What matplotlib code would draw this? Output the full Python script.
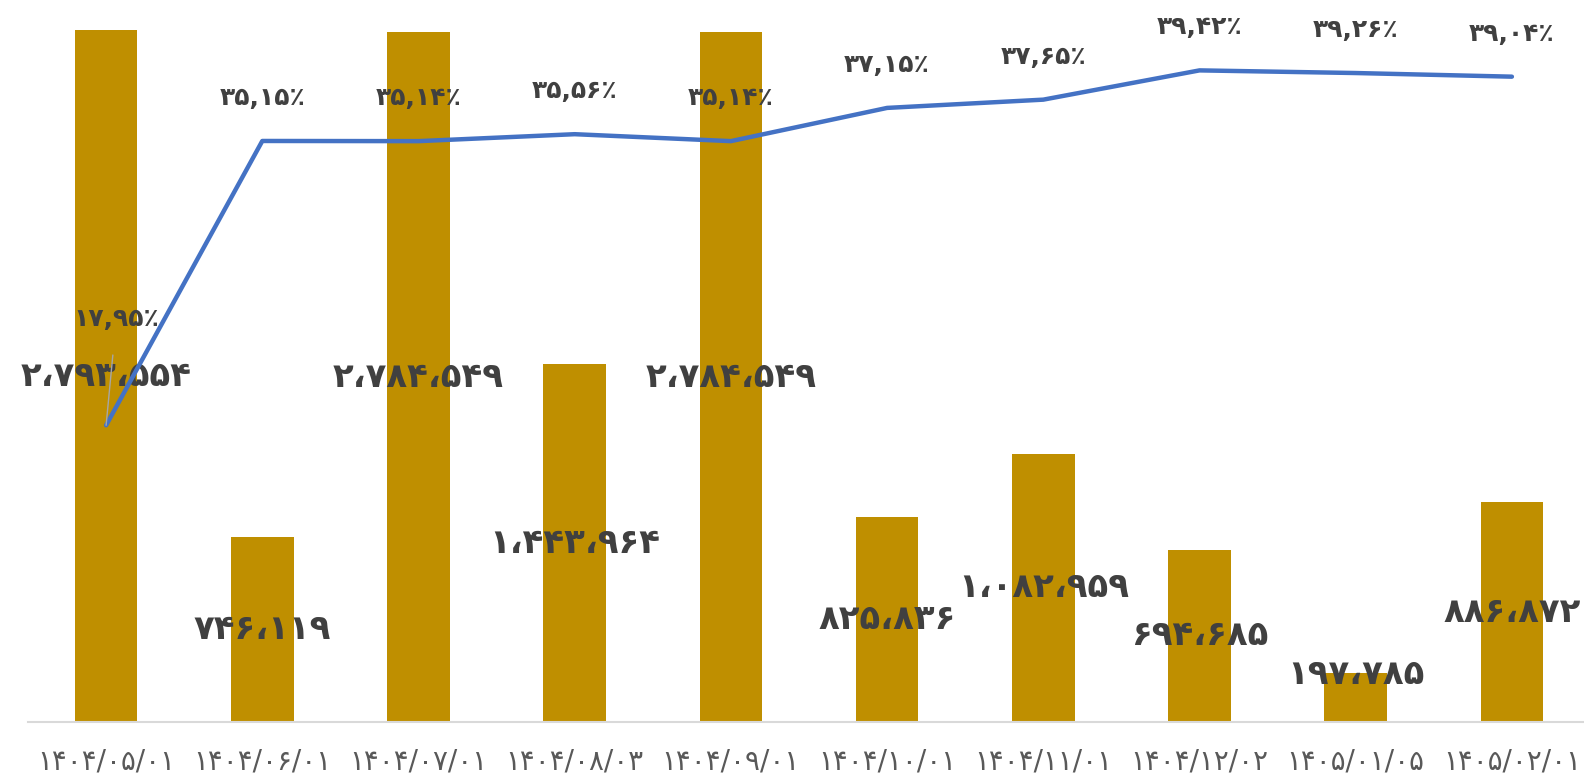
import matplotlib.pyplot as plt

# data
dates = ['1404/05/01', '1404/06/01', '1404/07/01', '1404/08/03', '1404/09/01',
         '1404/10/01', '1404/11/01', '1404/12/02', '1405/01/05', '1405/02/01']
amounts = [2793554, 746119, 2784549, 1443964, 2784549,
           825836, 1082959, 694685, 197785, 886872]
shares = [17.95, 35.15, 35.14, 35.56, 35.14, 37.15, 37.65, 39.42, 39.26, 39.04]

FA = str.maketrans('0123456789', '۰۱۲۳۴۵۶۷۸۹')


def fa(s):
    return s.translate(FA)


def fmt_amount(v):
    return fa('{:,}'.format(v).replace(',', '،'))


def fmt_share(v):
    s = '{:.2f}'.format(v).rstrip('0').rstrip('.')
    return fa(s.replace('.', ',')) + '٪'


plt.rcParams['font.family'] = ['DejaVu Sans']

fig = plt.figure(figsize=(15.84, 7.8), dpi=100)
ax = fig.add_axes([28 / 1584, 58 / 780, 1562 / 1584, 722 / 780])
x = range(len(dates))

ax.bar(x, amounts, width=0.4, color='#BF8F00', zorder=2)
ax.set_xlim(-0.5, len(dates) - 0.5)
ax.set_ylim(0, amounts[0] * 722 / 692)
ax.set_yticks([])
for s in ['top', 'right', 'left']:
    ax.spines[s].set_visible(False)
ax.spines['bottom'].set_color('#D9D9D9')
ax.spines['bottom'].set_linewidth(1.5)
ax.set_xticks(list(x))
ax.set_xticklabels([fa(d) for d in dates], fontsize=20, color='#595959')
ax.tick_params(axis='x', length=0, pad=18)

ax2 = ax.twinx()
ax2.set_ylim(0, 722 / 16.53)
ax2.set_yticks([])
for s in ax2.spines.values():
    s.set_visible(False)
ax2.plot(x, shares, color='#4472C4', lw=3.2, solid_capstyle='round', zorder=3)

# bar labels, centred in the bar
for i, v in enumerate(amounts):
    ax.text(i, max(v / 2, 190000), fmt_amount(v), ha='center', va='center',
            fontsize=24.5, fontweight='bold', color='#404040', zorder=5)

# line labels above the points
for i, v in enumerate(shares):
    if i == 0:
        ax2.annotate(fmt_share(v), xy=(i, v), xytext=(i + 0.065, v + 6.4),
                     ha='center', va='center', fontsize=18, fontweight='bold',
                     color='#404040',
                     arrowprops=dict(arrowstyle='-', color='#A6A6A6', lw=1,
                                     shrinkA=15, shrinkB=0), zorder=5)
    else:
        ax2.annotate(fmt_share(v), xy=(i, v), xytext=(0, 31),
                     textcoords='offset points', ha='center', va='center',
                     fontsize=18, fontweight='bold', color='#404040', zorder=5)

fig.savefig('out.png', dpi=100, facecolor='white')
